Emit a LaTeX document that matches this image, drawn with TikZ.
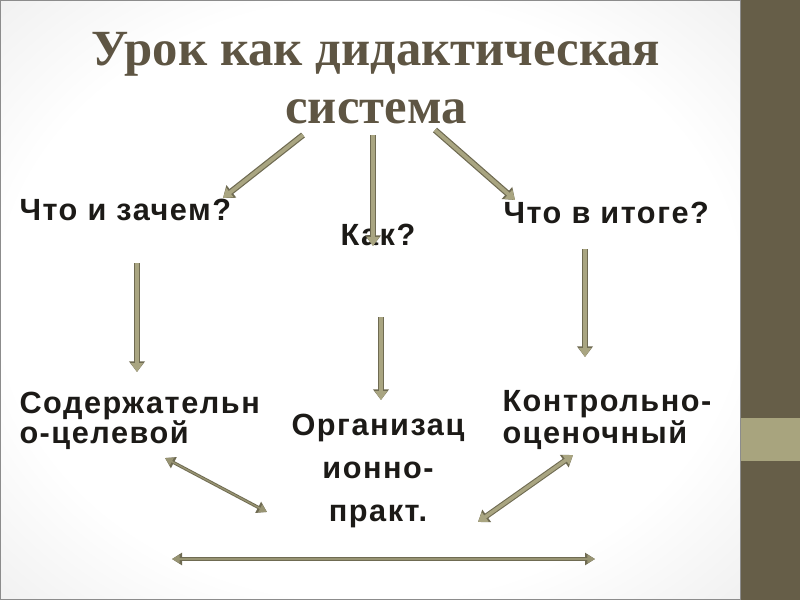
\documentclass[tikz,border=0pt]{standalone}
\usepackage{fontspec}
\setmainfont{Liberation Serif}
\setsansfont{Liberation Sans}
\newfontfamily\lblfont[LetterSpace=5]{Liberation Sans}
\usetikzlibrary{arrows.meta}

\definecolor{titlecol}{HTML}{5E5543}
\definecolor{textcol}{HTML}{1C1A17}
\definecolor{arrowedge}{HTML}{6F6B52}
\definecolor{arrowfill}{HTML}{A9A581}
\definecolor{stripdark}{HTML}{665E48}
\definecolor{striplight}{HTML}{A8A47E}

\pgfdeclareradialshading{slidebg}{\pgfpoint{0bp}{0bp}}{color(0bp)=(white); color(25bp)=(white); color(42bp)=(black!9); color(50bp)=(black!14)}

\tikzset{every picture/.style={line width=0.75pt}}
\tikzset{
  label/.style={inner sep=0pt, text=textcol, font=\lblfont\bfseries\fontsize{23}{22.5}\selectfont, align=left},
  fat/.style={draw=arrowedge, line width=4.6pt, -{Triangle[length=8pt,width=11.5pt]},
    postaction={draw=arrowfill, line width=2.8pt, -{Triangle[length=6.6pt,width=8.6pt]}}},
  fatboth/.style={draw=arrowedge, line width=4.2pt, {Triangle[length=8pt,width=11pt]}-{Triangle[length=8pt,width=11pt]},
    postaction={draw=arrowfill, line width=2.6pt, {Triangle[length=6.6pt,width=8.4pt]}-{Triangle[length=6.6pt,width=8.4pt]}}},
  thinboth/.style={draw=arrowedge, line width=2.4pt, {Triangle[length=7.5pt,width=9pt]}-{Triangle[length=7.5pt,width=9pt]},
    postaction={draw=arrowfill!70!arrowedge, line width=1pt, {Triangle[length=5.8pt,width=6.2pt]}-{Triangle[length=5.8pt,width=6.2pt]}}}
}

\begin{document}
\begin{tikzpicture}[x=0.75pt,y=0.75pt,yscale=-1,xscale=1]
	\useasboundingbox (0,0) rectangle (800,600);
	
	%Slide background
	\shade[shading=slidebg] (0,0) rectangle (740,600);
	\draw[black!45] (0.5,0.5) rectangle (740,599.5);
	\fill[stripdark] (740.5,0) rectangle (800,600);
	\fill[striplight] (740.5,418) rectangle (800,461);
	
	% Title
	\node (title) [anchor=base, inner sep=0pt, text=titlecol, align=center,
	  font=\rmfamily\bfseries\fontsize{38}{43}\selectfont] at (376,123) {Урок как дидактическая\\система};
	
	% Text Node
	\node (what) [label, anchor=base west] at (19,220) {Что и зачем?};
	% Text Node
	\node (how) [label, anchor=base west] at (340,245) {Как?};
	% Text Node
	\node (result) [label, anchor=base west] at (503,223) {Что в итоге?};
	% Text Node
	\node (content) [label, anchor=base west] at (19,443) {Содержательн\\о-целевой};
	% Text Node
	\node (org) [label, anchor=base, align=center, font=\lblfont\bfseries\fontsize{23}{32}\selectfont] at (378,521) {Организац\\ионно-\\практ.};
	% Text Node
	\node (control) [label, anchor=base west, font=\lblfont\bfseries\fontsize{23}{24}\selectfont] at (502,443) {Контрольно-\\оценочный};
	
	% arrow ends
	\coordinate (t1) at (303,135);
	\coordinate (t2) at (373,135);
	\coordinate (t3) at (435,130);
	\coordinate (w1) at (223,198);
	\coordinate (w2) at (373,246);
	\coordinate (w3) at (515,200);
	\coordinate (d1s) at (137,263);
	\coordinate (d1e) at (137,372);
	\coordinate (d2s) at (381,317);
	\coordinate (d2e) at (381,400);
	\coordinate (d3s) at (585,249);
	\coordinate (d3e) at (585,357);
	\coordinate (l1) at (165,458);
	\coordinate (l2) at (267,512);
	\coordinate (r1) at (573,455);
	\coordinate (r2) at (478,522);
	\coordinate (b1) at (172,559);
	\coordinate (b2) at (595,559);
	
	%Straight Lines
	\draw[fat] (t1) -- (w1);
	\draw[fat] (t2) -- (w2);
	\draw[fat] (t3) -- (w3);
	\draw[fat] (d1s) -- (d1e);
	\draw[fat] (d2s) -- (d2e);
	\draw[fat] (d3s) -- (d3e);
	\draw[thinboth] (l1) -- (l2);
	\draw[fatboth] (r1) -- (r2);
	\draw[thinboth] (b1) -- (b2);
	
\end{tikzpicture}
\end{document}
